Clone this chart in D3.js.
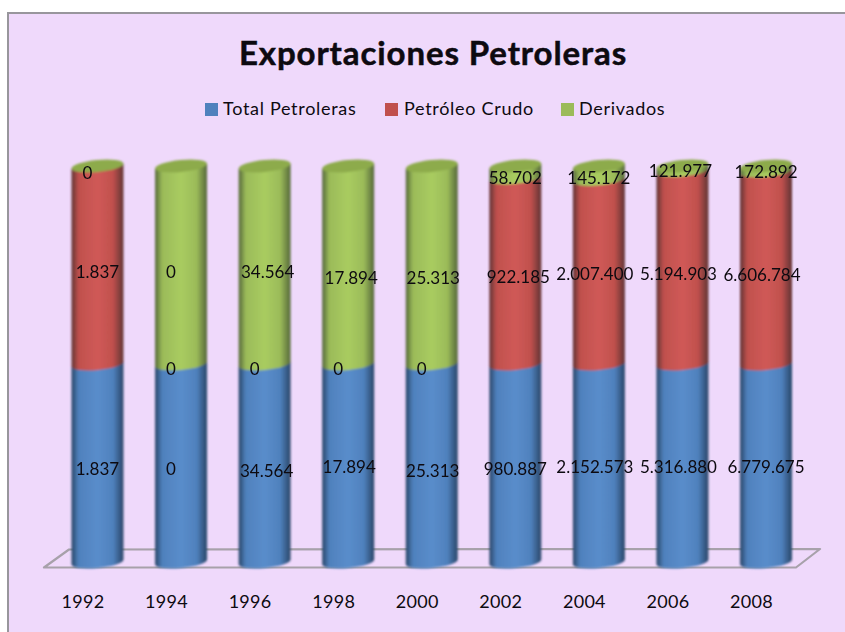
<!DOCTYPE html>
<html><head><meta charset="utf-8">
<style>
html,body{margin:0;padding:0;background:#fff;overflow:hidden}
svg{display:block}
text{font-family:Lato,"Noto Sans",sans-serif;fill:#0d0a10}
</style>
<script src="https://cdn.jsdelivr.net/npm/d3@7/dist/d3.min.js"></script>
</head><body><svg id="c" width="845" height="632"></svg>
<script>
const years = ["1992","1994","1996","1998","2000","2002","2004","2006","2008"];
const totalPetroleras = [1837, 0.4, 34564, 17894, 25313, 980887, 2152573, 5316880, 6779675];
const petroleoCrudo   = [1837, 0, 0, 0, 0, 922185, 2007400, 5194903, 6606784];
const derivados       = [0, 0.4, 34564, 17894, 25313, 58702, 145172, 121977, 172892];
const seriesNames = ["Total Petroleras","Petróleo Crudo","Derivados"];

const colors = ["#4f81bd","#c0504d","#9bbb59"];
const darkEdge = ["#2a4668","#5f3434","#55683a"];
const lightMid = ["#5a8dcb","#d05a57","#a9cc60"];
// hand placement of the labels, as in the reference (series x year)
const labelNudgeX = [
  [0,0,2,1,1,0,-4,-4,0],
  [0,0,0,0,0,3,-4,-4,-4],
  [0,0,3,3,1.5,0,0,-2,0]];
const labelNudgeY = [
  [2,2,4,0,4,2,0,0,0],
  [-1,1,1,1,1,-2,-6,-1,-1],
  [4,-1,-1,5,5,3,2,0,0]];

const svg=d3.select("#c");
const defs=svg.append("defs");
colors.forEach((c,i)=>{
  const g=defs.append("linearGradient").attr("id","g"+i);
  [[0,darkEdge[i]],[.14,c],[.5,lightMid[i]],[.8,c],[1,darkEdge[i]]].forEach(([o,k])=>g.append("stop").attr("offset",o).attr("stop-color",k));
});
defs.append("filter").attr("id","soft").append("feGaussianBlur").attr("stdDeviation",0.9);

svg.append("rect").attr("x",8).attr("y",13).attr("width",860).attr("height",640).attr("fill","#efd9fb").attr("stroke","#98969c").attr("stroke-width",2);

svg.append("text").attr("x",433).attr("y",65).attr("text-anchor","middle").attr("font-size",33).attr("font-weight",700).attr("letter-spacing",0.9).attr("stroke","#0d0a10").attr("stroke-width",0.5).text("Exportaciones Petroleras");

const legendX=[205,385,561], legendTextX=[223,404,579];
seriesNames.forEach((n,i)=>{
  svg.append("rect").attr("x",legendX[i]).attr("y",103).attr("width",13).attr("height",13).attr("fill",colors[i]);
  svg.append("text").attr("x",legendTextX[i]).attr("y",115).attr("font-size",18).attr("letter-spacing",0.7).text(n);
});

const x=d3.scaleBand().domain(years).range([39.9,823.6]).padding(0.378);
const y=d3.scaleLinear().domain([0,1]).range([562,166]);
const stack=d3.stack().keys([0,1,2]).value((d,k)=>d[k]).offset(d3.stackOffsetExpand);
const rows=years.map((_,i)=>[totalPetroleras[i],petroleoCrudo[i],derivados[i]]);
const layers=stack(rows);

// floor
svg.append("path").attr("d","M44,567.5L796,567.5L820,549L69,549.5Z").attr("fill","none").attr("stroke","#a7a1aa").attr("stroke-width",2.2).attr("stroke-linejoin","round");

const tilt=2.6, ry=6;
const bw=x.bandwidth(), r=bw/2;
function segment(cx,y0,y1){
  return `M${cx-r},${y1+tilt}L${cx+r},${y1-tilt}L${cx+r},${y0-tilt}A${r},${ry} -5.7 0 1 ${cx-r},${y0+tilt}Z`;
}
const bars=svg.append("g").attr("filter","url(#soft)");
years.forEach((yr,i)=>{
  const cx=x(yr)+r;
  const g=bars.append("g");
  layers.forEach((l,k)=>{
    if(l[i][1]-l[i][0]<=0) return;
    g.append("path").attr("d",segment(cx,y(l[i][0]),y(l[i][1]))).attr("fill",`url(#g${k})`);
  });
  g.append("ellipse").attr("cx",cx).attr("cy",y(1)).attr("rx",r).attr("ry",ry)
   .attr("transform",`rotate(-5.7 ${cx} ${y(1)})`).attr("fill","#8dab4c");
});

// labels
const fmt=d3.formatLocale({decimal:",",thousands:".",grouping:[3],currency:["",""]}).format(",.0f");
const labels=svg.append("g");
layers.forEach((l,k)=>years.forEach((yr,i)=>{
  const v=rows[i][k], cx=x(yr)+r, text=fmt(v);
  const dx=text==="0"?-10:labelNudgeX[k][i];
  const base=(k===2&&l[i][1]-l[i][0]<.1?9:k===0?10:k===1&&v<1?10:14);
  labels.append("text").attr("x",cx+dx).attr("y",y((l[i][0]+l[i][1])/2)+base+labelNudgeY[k][i])
    .attr("text-anchor","middle").attr("font-size",17).text(text);
}));

// axis
const axisG=svg.append("g").attr("transform","translate(-14.5,595.5)").call(d3.axisBottom(x).tickSize(0).tickPadding(0));
axisG.select(".domain").remove();
axisG.selectAll("text").attr("font-size",18).attr("dy",".71em").attr("letter-spacing",0.3);
</script></body></html>
